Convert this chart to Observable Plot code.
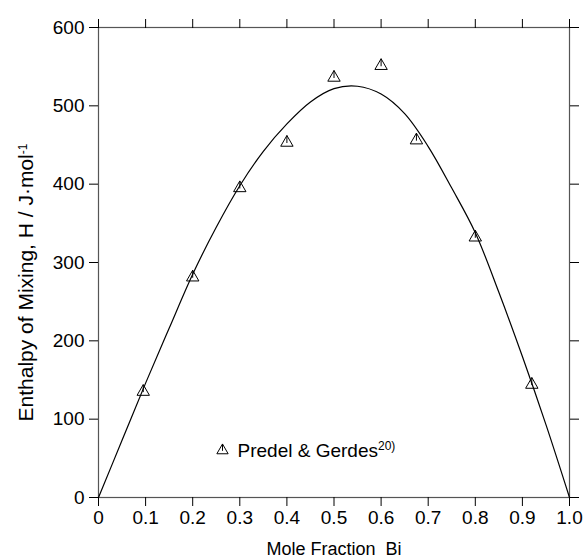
<!DOCTYPE html>
<html>
<head>
<meta charset="utf-8">
<script src="https://cdn.jsdelivr.net/npm/d3@7"></script>
<script src="https://cdn.jsdelivr.net/npm/@observablehq/plot@0.6"></script>
<style>
  html, body { margin: 0; padding: 0; background: #fff; }
  svg text { white-space: pre; }
</style>
</head>
<body>
<div id="chart"></div>
<script>
// Fitted curve
const curveX = [0, 0.05, 0.1, 0.15, 0.2, 0.25, 0.3, 0.35, 0.4, 0.45, 0.5, 0.55, 0.6, 0.65, 0.7, 0.75, 0.8, 0.85, 0.9, 0.95, 1.0];
const curveY = [0, 73, 146, 216, 285, 345, 398, 442, 477, 505, 522, 525, 515, 490, 448, 395, 338, 262, 180, 93, 0];

// Measured points: Predel & Gerdes
const pointX = [0.095, 0.2, 0.3, 0.4, 0.5, 0.6, 0.675, 0.8, 0.92];
const pointY = [135, 281, 395, 453, 536, 551, 456, 332, 144];

// Ticks
const xTicks = [0, 0.1, 0.2, 0.3, 0.4, 0.5, 0.6, 0.7, 0.8, 0.9, 1.0];
const xTickLabels = ["0", "0.1", "0.2", "0.3", "0.4", "0.5", "0.6", "0.7", "0.8", "0.9", "1.0"];
const yTicks = [0, 100, 200, 300, 400, 500, 600];

// Texts
const xLabel = "Mole Fraction  Bi";
const yLabel = "Enthalpy of Mixing, H / J\u00B7mol";
const yLabelSup = "-1";
const legendLabel = "Predel & Gerdes";
const legendSup = "20)";

const curve = curveX.map((x, i) => ({x, y: curveY[i]}));
const points = pointX.map((x, i) => ({x, y: pointY[i]}));

// open triangle with a small mark inside, like the reference
const triMark = {
  draw(ctx, size) {
    const y = -Math.sqrt(size / (Math.sqrt(3) * 3));
    ctx.moveTo(0, y * 2);
    ctx.lineTo(-Math.sqrt(3) * y, -y);
    ctx.lineTo(Math.sqrt(3) * y, -y);
    ctx.closePath();
    ctx.moveTo(0, y * 2);
    ctx.lineTo(0, -0.1 * y);
  }
};

const font = "Liberation Sans, Arial, Helvetica, sans-serif";

const chart = Plot.plot({
  width: 583,
  height: 559,
  marginLeft: 98,
  marginRight: 14,
  marginTop: 27,
  marginBottom: 62,
  style: {fontFamily: font, fontSize: "19px", color: "black", background: "white", overflow: "visible"},
  x: {domain: [0, 1]},
  y: {domain: [0, 600]},
  marks: [
    Plot.frame({stroke: "#555", strokeWidth: 1.2}),
    Plot.axisY({anchor: "left", ticks: yTicks, tickSize: 9, tickPadding: 5, label: null, fontSize: 19, stroke: "black"}),
    Plot.axisY({anchor: "right", ticks: yTicks, tickSize: 9, tickFormat: () => "", label: null, stroke: "black"}),
    Plot.axisX({anchor: "bottom", ticks: xTicks, tickSize: 9, tickPadding: 4, label: null, fontSize: 19, stroke: "black",
      tickFormat: d => xTickLabels[xTicks.indexOf(d)]}),
    Plot.axisX({anchor: "top", ticks: xTicks, tickSize: 9, tickFormat: () => "", label: null, stroke: "black"}),
    Plot.line(curve, {x: "x", y: "y", curve: "catmull-rom", stroke: "black", strokeWidth: 1.2}),
    Plot.dot(points, {x: "x", y: "y", symbol: triMark, r: 4.6, stroke: "black", fill: "none", strokeWidth: 1}),
    Plot.text([xLabel], {frameAnchor: "bottom", dy: 52, fontSize: 18, lineAnchor: "middle"}),
    Plot.text([yLabel], {frameAnchor: "left", textAnchor: "middle", dx: -72, dy: 20, rotate: -90, fontSize: 21, lineAnchor: "middle"}),
    Plot.dot([0], {frameAnchor: "bottom-left", dx: 124, dy: -47, symbol: triMark, r: 4.2, stroke: "black", fill: "none", strokeWidth: 1}),
    Plot.text([legendLabel], {frameAnchor: "bottom-left", dx: 139, dy: -47, textAnchor: "start", lineAnchor: "middle", fontSize: 19})
  ]
});

document.getElementById("chart").appendChild(chart);

// superscripts
d3.select(chart).selectAll("text").each(function() {
  const t = this.textContent;
  if (t === yLabel) {
    d3.select(this).append("tspan").attr("dy", "-0.55em").attr("font-size", 12).text(yLabelSup);
  } else if (t === legendLabel) {
    d3.select(this).append("tspan").attr("dy", "-0.55em").attr("font-size", 12).text(legendSup);
  }
});
</script>
</body>
</html>
